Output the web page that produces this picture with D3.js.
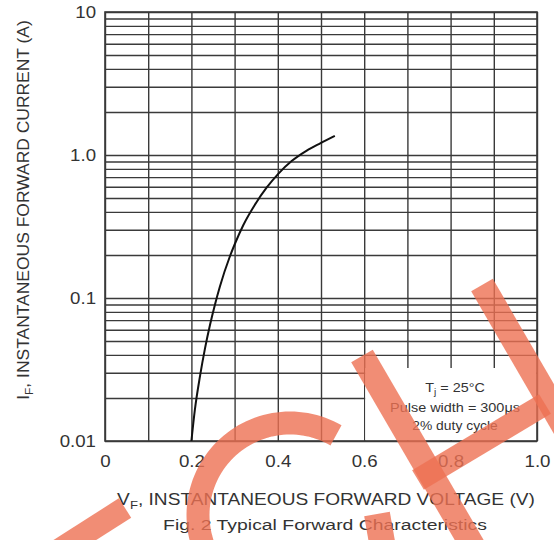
<!DOCTYPE html>
<html>
<head>
<meta charset="utf-8">
<script src="https://cdn.jsdelivr.net/npm/d3@7"></script>
<style>
  html, body { margin: 0; padding: 0; background: #fff; }
  svg { display: block; font-family: "Liberation Sans", Arial, Helvetica, sans-serif; }
</style>
</head>
<body>
<svg id="chart" width="554" height="540"></svg>
<script>
// ---- data ----
const voltage = [0.200, 0.208, 0.220, 0.2315, 0.243, 0.2546, 0.266, 0.289, 0.301, 0.320, 0.347, 0.374, 0.401, 0.432, 0.467, 0.498, 0.532];
const current = [0.0100, 0.0165, 0.0285, 0.0444, 0.0647, 0.0901, 0.1204, 0.1951, 0.2405, 0.3229, 0.4493, 0.5906, 0.7386, 0.9064, 1.0735, 1.2077, 1.3627];
const xGridValues = [0, 0.1, 0.2, 0.3, 0.4, 0.5, 0.6, 0.7, 0.8, 0.9, 1.0];
const xTickValues = [0, 0.2, 0.4, 0.6, 0.8, 1.0];
const xTickLabels = ["0", "0.2", "0.4", "0.6", "0.8", "1.0"];
const yTickValues = [0.01, 0.1, 1, 10];
const yTickLabels = ["0.01", "0.1", "1.0", "10"];
const yGridMantissas = [1, 2, 3, 4, 5, 6, 7, 8, 9];
const yDecades = [0.01, 0.1, 1];
const noteLines = ["Tj = 25°C", "Pulse width = 300μs", "2% duty cycle"];

// ---- layout ----
const W = 554, H = 540;
const margin = { left: 105, right: 17, top: 12, bottom: 99 };
const pw = W - margin.left - margin.right;
const ph = H - margin.top - margin.bottom;

const svg = d3.select("#chart");
const g = svg.append("g").attr("transform", `translate(${margin.left},${margin.top})`);

const x = d3.scaleLinear().domain([0, 1]).range([0, pw]);
const y = d3.scaleLog().domain([0.01, 10]).range([ph, 0]);

const gridColor = "#3a3a3a";
const textColor = "#333";

// stretch a text horizontally so it spans a target width, centred at (cx, cy)
function fit(sel, target, cx, cy, rotate) {
  const w = sel.node().getBBox().width;
  const k = target / w;
  sel.attr("text-anchor", "middle").attr("x", 0).attr("y", 0)
     .attr("transform", `translate(${cx},${cy})${rotate ? " rotate(-90)" : ""} scale(${k},1)`);
}

// horizontal grid (log)
const yGridValues = [];
yDecades.forEach(d => yGridMantissas.forEach(m => yGridValues.push(d * m)));
yGridValues.push(10);

g.append("g")
  .attr("class", "ygrid")
  .call(d3.axisLeft(y).tickValues(yGridValues).tickSize(-pw).tickFormat(""))
  .call(s => s.select(".domain").remove())
  .call(s => s.selectAll("line").attr("stroke", gridColor).attr("stroke-width", 1.4));

// vertical grid
g.append("g")
  .attr("class", "xgrid")
  .attr("transform", `translate(0,${ph})`)
  .call(d3.axisBottom(x).tickValues(xGridValues).tickSize(-ph).tickFormat(""))
  .call(s => s.select(".domain").remove())
  .call(s => s.selectAll("line").attr("stroke", gridColor).attr("stroke-width", 1.4));

// note box (white, covering grid)
const boxX0 = x(0.6), boxX1 = x(1.0);
const boxTop = 368 - margin.top;
g.append("rect")
  .attr("x", boxX0 + 1).attr("y", boxTop)
  .attr("width", boxX1 - boxX0 - 2).attr("height", ph - boxTop - 1)
  .attr("fill", "#fff");

// frame
g.append("rect")
  .attr("x", 0).attr("y", 0).attr("width", pw).attr("height", ph)
  .attr("fill", "none").attr("stroke", gridColor).attr("stroke-width", 1.6);

// curve
const pts = voltage.map((v, i) => [v, current[i]]);
g.append("path")
  .datum(pts)
  .attr("fill", "none")
  .attr("stroke", "#111")
  .attr("stroke-width", 2)
  .attr("d", d3.line().x(d => x(d[0])).y(d => y(d[1])).curve(d3.curveMonotoneX));

// y tick labels
const yAxis = g.append("g")
  .call(d3.axisLeft(y).tickValues(yTickValues).tickSize(0).tickPadding(9)
    .tickFormat((d, i) => yTickLabels[i]));
yAxis.select(".domain").remove();
yAxis.selectAll("text")
  .attr("font-family", "Liberation Sans, Arial, sans-serif")
  .attr("font-size", 16.5).attr("fill", textColor)
  .each(function () {
    this.setAttribute("textLength", this.getComputedTextLength() * 1.13);
    this.setAttribute("lengthAdjust", "spacingAndGlyphs");
  });

// x tick labels
const xAxis = g.append("g")
  .attr("transform", `translate(0,${ph})`)
  .call(d3.axisBottom(x).tickValues(xTickValues).tickSize(0).tickPadding(14)
    .tickFormat((d, i) => xTickLabels[i]));
xAxis.select(".domain").remove();
xAxis.selectAll("text")
  .attr("font-family", "Liberation Sans, Arial, sans-serif")
  .attr("font-size", 17).attr("fill", textColor)
  .each(function () {
    this.setAttribute("textLength", this.getComputedTextLength() * 1.1);
    this.setAttribute("lengthAdjust", "spacingAndGlyphs");
  });

// note text
const noteCx = 455;
const note = svg.append("g").attr("font-size", 12).attr("fill", textColor);
const t0 = note.append("text");
t0.append("tspan").text("T");
t0.append("tspan").attr("font-size", 8.5).attr("dy", 3).text("j");
t0.append("tspan").attr("dy", -3).text(" = 25°C");
fit(t0, 60, noteCx, 392);
fit(note.append("text").text(noteLines[1]), 130, noteCx, 412);
fit(note.append("text").text(noteLines[2]), 86, noteCx, 430);

// axis titles
const xt = svg.append("text").attr("font-size", 16).attr("fill", textColor);
xt.append("tspan").text("V");
xt.append("tspan").attr("font-size", 11).attr("dy", 4).text("F");
xt.append("tspan").attr("dy", -4).text(", INSTANTANEOUS FORWARD VOLTAGE (V)");
fit(xt, 418, 326, 505);

const yt = svg.append("text").attr("font-size", 16).attr("fill", textColor);
yt.append("tspan").text("I");
yt.append("tspan").attr("font-size", 11).attr("dy", 4).text("F");
yt.append("tspan").attr("dy", -4).text(", INSTANTANEOUS FORWARD CURRENT (A)");
fit(yt, 380, 29, 210, true);

const cap = svg.append("text").attr("font-size", 15).attr("fill", textColor)
  .text("Fig. 2  Typical Forward Characteristics");
fit(cap, 324, 325, 530);

// watermark
const wm = svg.append("g")
  .attr("fill", "none")
  .attr("stroke", "rgb(238,112,82)")
  .attr("stroke-opacity", 0.8)
  .attr("stroke-width", 23)
  .attr("stroke-linecap", "butt");
// "C" arc
(function () {
  const cx = 290, cy = 515, r = 92;
  const a0 = 150 * Math.PI / 180, a1 = 300 * Math.PI / 180;
  const n = 60, arr = [];
  for (let i = 0; i <= n; i++) {
    const t = a0 + (a1 - a0) * i / n;
    arr.push([cx + r * Math.cos(t), cy + r * Math.sin(t)]);
  }
  wm.append("path").attr("d", d3.line()(arr));
})();
// lower-left stroke
wm.append("path").attr("d", "M125,508 L20,575");
// stroke under "Ch"
wm.append("path").attr("stroke-width", 26).attr("d", "M377,514 L383,548");
// H left leg
wm.append("path").attr("stroke-width", 25).attr("d", "M362,356 L475,550");
// H right leg
wm.append("path").attr("stroke-width", 25).attr("d", "M482,285 L580,454");
// H crossbar
wm.append("path").attr("d", "M418,480 L545,404");
</script>
</body>
</html>
